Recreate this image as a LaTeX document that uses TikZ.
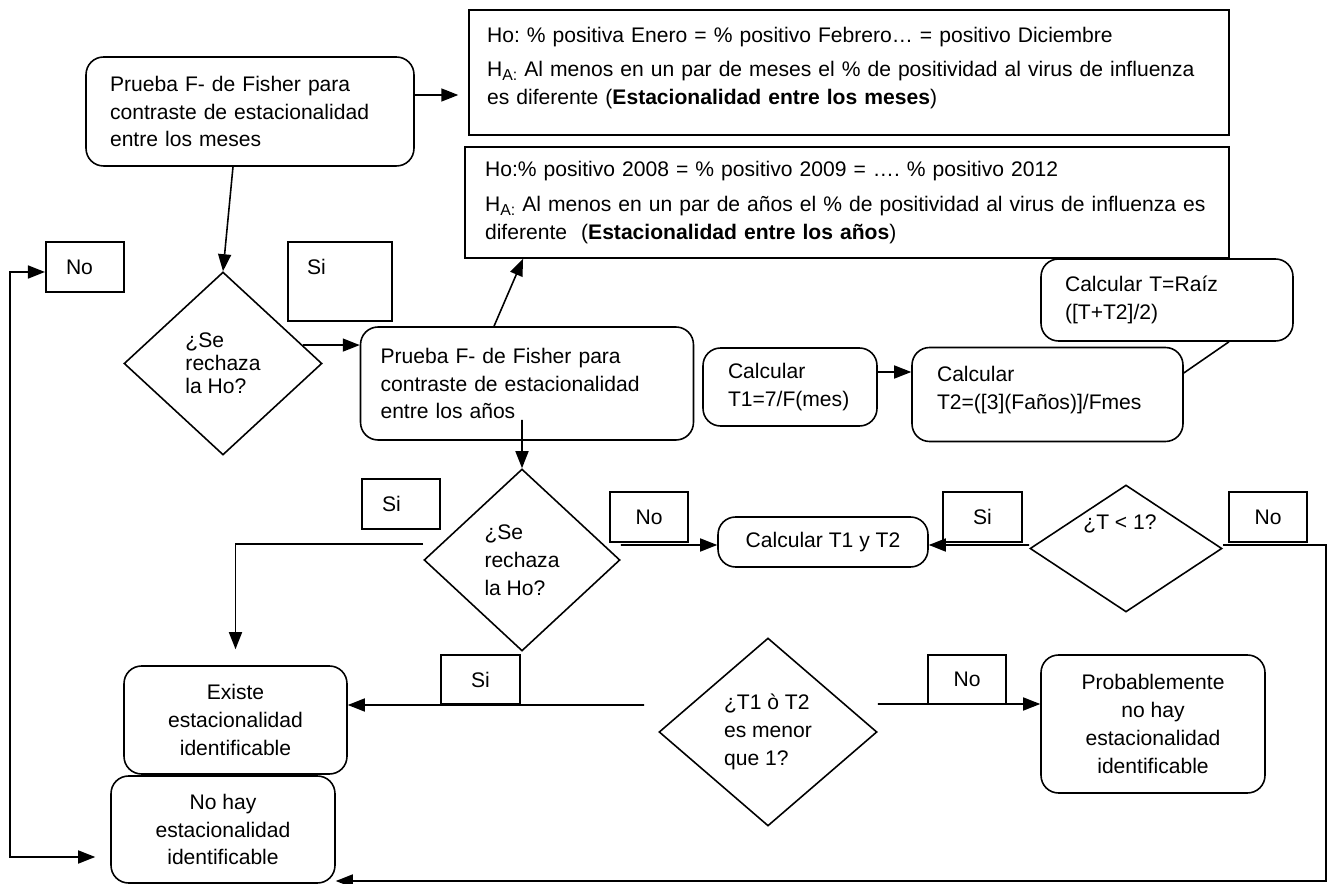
\documentclass[tikz,border=0pt]{standalone}
\usepackage{fontspec}
\setmainfont{Liberation Sans}
\usetikzlibrary{arrows.meta,shapes.geometric}
\frenchspacing

\begin{document}
\begin{tikzpicture}[x=0.02cm,y=-0.02cm,>={Triangle[length=3.4mm,width=2.6mm]},
  font=\fontsize{12pt}{15.8pt}\selectfont,line width=0.9pt,
  rbox/.style={draw,rounded corners=0.35cm,inner ysep=0pt},
  hbox/.style={draw,inner ysep=0pt,align=left,text width=14.48cm},
  lbl/.style={draw,inner sep=0pt,minimum width=1.57cm,minimum height=1cm},
  lblL/.style={lbl,align=left,text width=0.76cm},
  dmd/.style={draw,diamond,inner sep=0pt,align=left}]
\useasboundingbox (0,0) rectangle (1339,884);

% hipotesis
\node[hbox,inner xsep=0.36cm,minimum height=2.5cm] (hmes) at (849,72.5)
  {Ho: \% positiva Enero = \% positivo Febrero… = positivo Diciembre\\[4pt]
   H\raisebox{-0.35ex}{\small A:} Al menos en un par de meses el \% de positividad al virus de influenza\\
   es diferente (\textbf{Estacionalidad entre los meses})\\[-8pt]\mbox{}};
\node[hbox,inner xsep=0.4cm,minimum height=2.22cm] (hanos) at (847,202.5)
  {Ho:\% positivo 2008 = \% positivo 2009 = …. \% positivo 2012\\[4pt]
   H\raisebox{-0.35ex}{\small A:} Al menos en un par de años el \% de positividad al virus de influenza es\\
   diferente\ \ (\textbf{Estacionalidad entre los años})};

% pruebas y calculos
\node[rbox,align=left,text width=5.6cm,inner xsep=0.48cm,minimum height=2.18cm] (fmes) at (250,111.5)
  {Prueba F- de Fisher para\\contraste de estacionalidad\\entre los meses};
\node[rbox,align=left,text width=5.86cm,inner xsep=0.4cm,minimum height=2.26cm] (fanos) at (527,383.5)
  {Prueba F- de Fisher para\\contraste de estacionalidad\\entre los años};
\node[rbox,align=left,text width=2.48cm,inner xsep=0.5cm,minimum height=1.56cm] (ct1) at (790,387)
  {Calcular\\T1=7/F(mes)};
\node[rbox,align=left,text width=4.42cm,inner xsep=0.5cm,minimum height=1.88cm] (ct2) at (1047.5,394.5)
  {Calcular\\T2=([3](Faños)]/Fmes\\[-8pt]\mbox{}};
\node[rbox,align=left,text width=4.08cm,inner xsep=0.48cm,minimum height=1.64cm] (craiz) at (1167,300)
  {Calcular T=Raíz\\([T+T2]/2)};
\node[rbox,minimum width=4.2cm,minimum height=1cm] (ct12) at (823,542) {Calcular T1 y T2};

% decisiones
\node[dmd,minimum width=3.96cm,minimum height=3.66cm,font=\fontsize{12pt}{13.2pt}\selectfont] (rho1) at (223,363.5)
  {¿Se\\rechaza\\la Ho?};
\node[dmd,minimum width=3.92cm,minimum height=3.64cm] (rho2) at (522,560) {¿Se\\rechaza\\la Ho?};
\node[dmd,minimum width=4.36cm,minimum height=3.76cm] (rho3) at (768,732) {¿T1 ò T2\\es menor\\que 1?};
\node[dmd,minimum width=3.84cm,minimum height=2.54cm,label={[xshift=-0.12cm,yshift=0.5cm]center:¿T < 1?}] (rhoT) at (1126,548.5) {};

% resultados
\node[rbox,align=center,minimum width=4.46cm,minimum height=2.16cm] (exi) at (235.5,720)
  {Existe\\estacionalidad\\identificable};
\node[rbox,align=center,minimum width=4.48cm,minimum height=2.14cm] (nohay) at (223,829.5)
  {No hay\\estacionalidad\\identificable};
\node[rbox,align=center,minimum width=4.48cm,minimum height=2.76cm] (prob) at (1153,724)
  {Probablemente\\no hay\\estacionalidad\\identificable};

% etiquetas
\node[lblL] (noA) at (85,267) {No};
\node[lbl,minimum width=2.08cm,minimum height=1.58cm,label={[xshift=-0.47cm,yshift=0.29cm]center:Si}] (siA) at (340,281.5) {};
\node[lblL] (siB) at (401,504) {Si};
\node[lbl] (noB) at (649,517) {No};
\node[lbl] (siC) at (982.5,517) {Si};
\node[lbl] (noC) at (1268,517) {No};
\node[lbl,minimum height=0.98cm] (siD) at (480.5,679.5) {Si};
\node[lbl,minimum height=0.98cm] (noD) at (967,679.5) {No};

\coordinate (lc) at (10,857);
\coordinate (rc) at (1326,881);

% conectores
\draw[->,shorten >=0.2cm] ([yshift=0.33cm]fmes.east) -- ([yshift=0.33cm]fmes.east -| hmes.west);
\draw[->] ([xshift=-0.34cm]fmes.south) -- (rho1.north);
\draw[->] (rho1.13) -- (rho1.13 -| fanos.west);
\draw[->] ([xshift=-0.66cm]fanos.north) -- ([xshift=-6.48cm]hanos.south);
\draw[->] ([xshift=-0.1cm,yshift=0.42cm]fanos.south) -- (rho2.north);
\draw[->,shorten >=0.32cm] ([yshift=0.32cm]rho2.west) -| (exi.north);
\draw[->] ([yshift=0.3cm]rho2.east) -- ([yshift=-0.06cm]ct12.west);
\draw[->] ([yshift=0.07cm]rhoT.west) -- ([yshift=-0.06cm]ct12.east);
\draw[->] ([yshift=0.07cm]rhoT.east) -| (rc) -- (rc -| nohay.east);
\draw[->] ([shift={(-0.28cm,0.54cm)}]rho3.west) -- ([yshift=0.3cm]exi.east);
\draw[->] ([yshift=0.56cm]rho3.east) -- ([yshift=0.4cm]prob.west);
\draw[->] ([yshift=0.3cm]ct1.east) -- ([yshift=0.3cm]ct1.east -| ct2.west);
\draw ([yshift=0.43cm]ct2.east) -- ([xshift=1.24cm]craiz.south);
\draw[<->] ([yshift=-0.1cm]noA.west) -| (lc) -- ([shift={(-0.3cm,-0.55cm)}]nohay.west);
\end{tikzpicture}
\end{document}
